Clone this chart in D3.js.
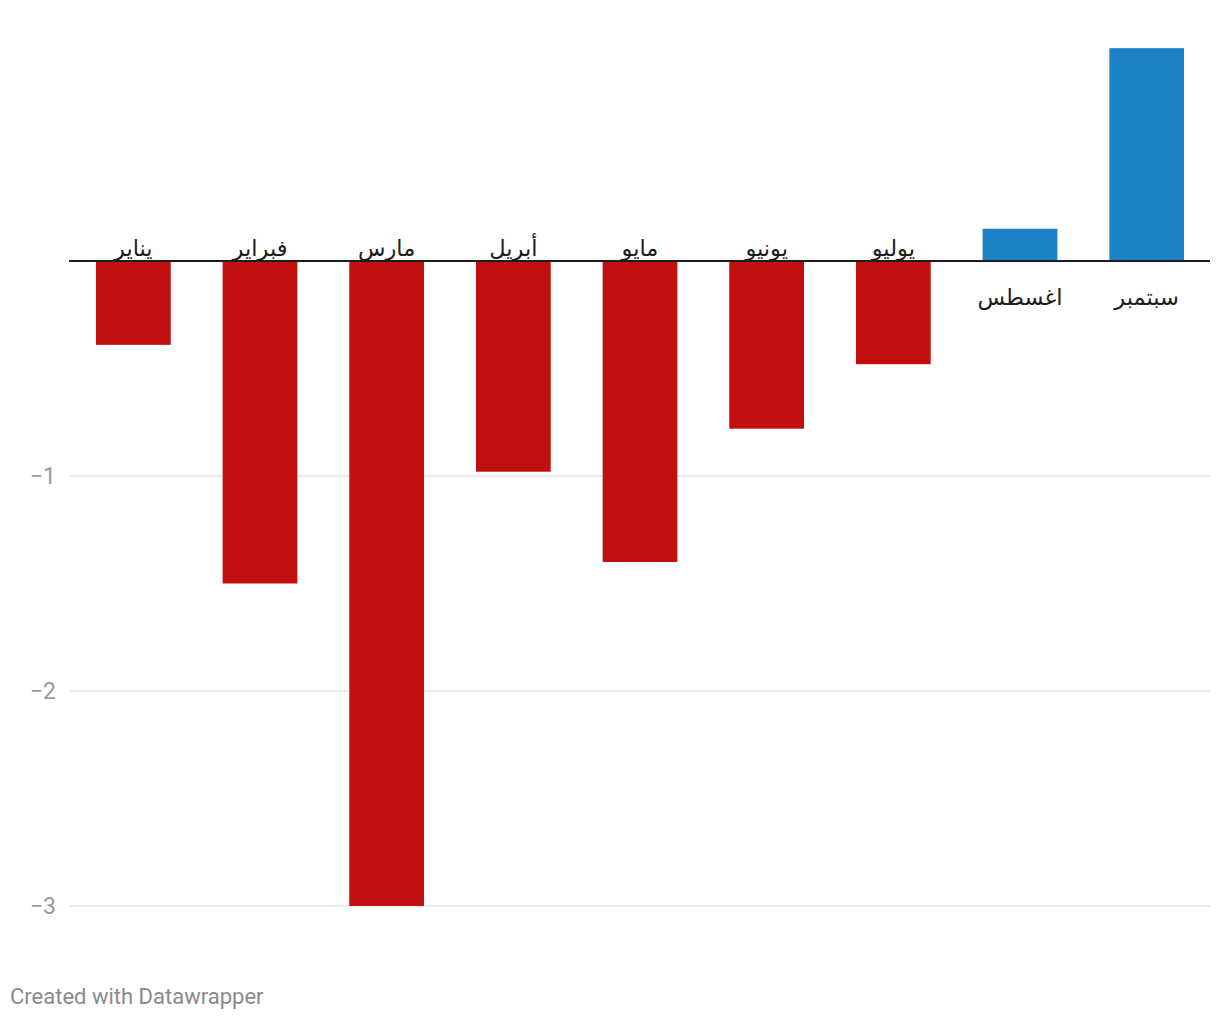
<!DOCTYPE html>
<html><head><meta charset="utf-8">
<script src="https://cdn.jsdelivr.net/npm/d3@7"></script>
<style>body{margin:0;background:#fff;} svg{display:block;font-family:Roboto,"Noto Sans",sans-serif;}</style>
</head><body>
<script>
const categories = ["يناير","فبراير","مارس","أبريل","مايو","يونيو","يوليو","اغسطس","سبتمبر"];
const values = [-0.39, -1.50, -3.0, -0.98, -1.40, -0.78, -0.48, 0.15, 0.99];
const tickValues = [-1, -2, -3];
const tickLabels = ["−1", "−2", "−3"];

const W = 1220, H = 1020;
const svg = d3.select("body").append("svg").attr("width", W).attr("height", H);

const x = d3.scaleBand().domain(categories).range([70, 1210]).paddingInner(0.41).paddingOuter(0.205);
const y = d3.scaleLinear().domain([-3, 0]).range([906, 261]);

// gridlines + ticks
const g = svg.append("g");
g.selectAll("line.grid").data(tickValues).join("line")
  .attr("x1", 70).attr("x2", 1210)
  .attr("y1", d => y(d)).attr("y2", d => y(d))
  .attr("stroke", "#e3e3e3").attr("stroke-width", 1.5);
g.selectAll("text.tick").data(tickValues).join("text")
  .attr("x", 56).attr("y", d => y(d)).attr("dy", "0.36em")
  .attr("text-anchor", "end").attr("fill", "#9a9a9a").attr("font-size", 23)
  .text((d, i) => tickLabels[i]);

// bars
svg.selectAll("rect.bar").data(values).join("rect")
  .attr("x", (d, i) => x(categories[i]))
  .attr("width", x.bandwidth())
  .attr("y", d => Math.min(y(d), y(0)))
  .attr("height", d => Math.abs(y(d) - y(0)))
  .attr("fill", d => d < 0 ? "#c10f0f" : "#1b82c6");

// zero line
svg.append("line").attr("x1", 69).attr("x2", 1210).attr("y1", y(0)).attr("y2", y(0))
  .attr("stroke", "#1d1d1d").attr("stroke-width", 2);

// category labels
svg.selectAll("text.cat").data(values).join("text")
  .attr("x", (d, i) => x(categories[i]) + x.bandwidth() / 2)
  .attr("y", d => d < 0 ? y(0) - 5 : y(0) + 44)
  .attr("text-anchor", "middle").attr("fill", "#1d1d1d").attr("font-size", 22.5)
  .style("font-family", "'DejaVu Sans','Noto Sans',sans-serif")
  .text((d, i) => categories[i]);

// footer
svg.append("text").attr("x", 10).attr("y", 1004).attr("fill", "#8a8a8a").attr("font-size", 22)
  .text("Created with Datawrapper");
</script>
</body></html>
